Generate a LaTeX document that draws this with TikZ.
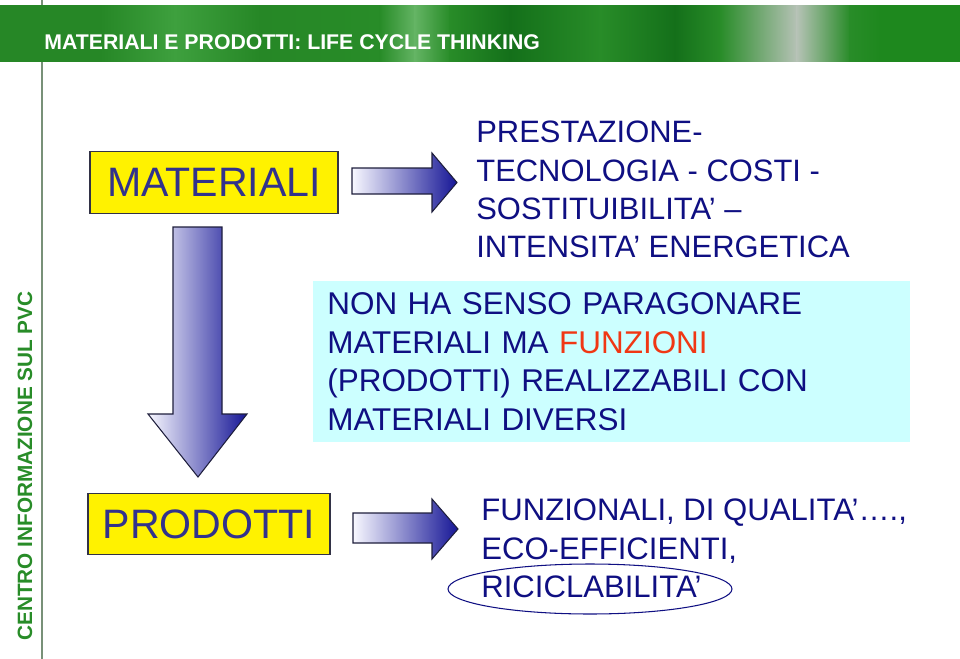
\documentclass[tikz,border=0pt]{standalone}
\usepackage{fontspec}
\setmainfont{Liberation Sans}
\usepackage{tikz}

\definecolor{gA}{RGB}{38,135,38}
\definecolor{gB}{RGB}{62,160,62}
\definecolor{gC}{RGB}{40,140,40}
\definecolor{gD}{RGB}{100,180,100}
\definecolor{gE}{RGB}{20,112,26}
\definecolor{gF}{RGB}{182,194,182}
\definecolor{gG}{RGB}{30,136,30}
\definecolor{sidegreen}{RGB}{40,140,40}
\definecolor{sideline}{RGB}{120,145,120}
\definecolor{boxline}{RGB}{50,50,70}
\definecolor{labeltext}{RGB}{50,50,140}
\definecolor{navytext}{RGB}{15,15,130}
\definecolor{cyanbox}{RGB}{204,255,255}
\definecolor{funzred}{RGB}{240,55,20}
\definecolor{arrowlight}{RGB}{248,248,255}
\definecolor{arrowmid}{RGB}{110,110,195}
\definecolor{arrowdark}{RGB}{22,22,150}
\definecolor{arrowline}{RGB}{30,30,60}

\begin{document}
\begin{tikzpicture}[x=0.02cm,y=-0.02cm,
  labelbox/.style={draw=boxline,line width=0.8pt,fill=yellow,text=labeltext,
    font=\fontsize{23.4}{28}\selectfont,inner sep=0pt,minimum height=1.23cm},
  bigarrow/.style={draw=arrowline,line width=0.6pt,left color=arrowlight,
    middle color=arrowmid,right color=arrowdark},
  bluetext/.style={text=navytext,align=left,inner sep=0pt,anchor=north west}]
\useasboundingbox (0,0) rectangle (960,659);

% side line and header band
\draw[sideline,line width=0.8pt] (42,0) -- (42,659);
\fill[gC] (0,5) rectangle (960,61);
\foreach \xa/\ca/\xb/\cb in {0/gA/100/gA,100/gA/175/gB,175/gB/260/gA,260/gA/380/gC,
  380/gC/415/gD,415/gD/450/gC,450/gC/510/gE,510/gE/600/gC,600/gC/675/gE,
  675/gE/720/gC,720/gC/797/gF,797/gF/850/gC,850/gC/880/gG,880/gG/960/gG}
  \shade[left color=\ca,right color=\cb] (\xa-0.3,5) rectangle (\xb+0.3,61);
\node[anchor=base west,inner sep=0pt,text=white,font=\fontsize{12.1}{14}\selectfont\bfseries]
  (title) at (44,49.3) {MATERIALI E PRODOTTI: LIFE CYCLE THINKING};
\node[rotate=90,text=sidegreen,font=\fontsize{11.8}{14}\selectfont\bfseries]
  (side) at (25,466) {CENTRO INFORMAZIONE SUL PVC};

% the two boxes
\node[labelbox,minimum width=4.96cm] (mat) at (214,182.5) {MATERIALI};
\node[labelbox,minimum width=4.84cm] (prod) at (209,524) {PRODOTTI};

% block arrows
\shadedraw[bigarrow]
  (173,227) -- (222,227) -- (222,414) -- (247,414) -- (198,477) -- (148,414)
  -- (173,414) -- cycle;
\shadedraw[bigarrow]
  (352,168) -- (432,168) -- (432,153) -- (457,182.5) -- (432,212) -- (432,194)
  -- (352,194) -- cycle;
\shadedraw[bigarrow]
  (353,513) -- (432,513) -- (432,499) -- (458,529) -- (432,559) -- (432,543)
  -- (353,543) -- cycle;

% texts
\node[bluetext,font=\fontsize{17.6}{21.7}\selectfont] (perf) at (476,121)
  {PRESTAZIONE-\\TECNOLOGIA - COSTI -\\SOSTITUIBILITA’ –\\INTENSITA’ ENERGETICA};
\node[fill=cyanbox,text=navytext,align=left,anchor=north west,inner xsep=0.28cm,
  inner ysep=0pt,text width=11.38cm,minimum height=3.22cm,
  font=\fontsize{17.9}{21.9}\selectfont] (idea) at (313,281)
  {NON HA SENSO PARAGONARE\\MATERIALI MA {\color{funzred}FUNZIONI}\\(PRODOTTI) REALIZZABILI CON\\MATERIALI DIVERSI};
\node[bluetext,font=\fontsize{17.7}{22}\selectfont] (qual) at (481,498.5)
  {FUNZIONALI, DI QUALITA’….,\\ECO-EFFICIENTI,\\RICICLABILITA’};
\draw[navytext,line width=0.6pt] (590,589) ellipse [x radius=2.84cm,y radius=0.5cm];

\end{tikzpicture}
\end{document}
